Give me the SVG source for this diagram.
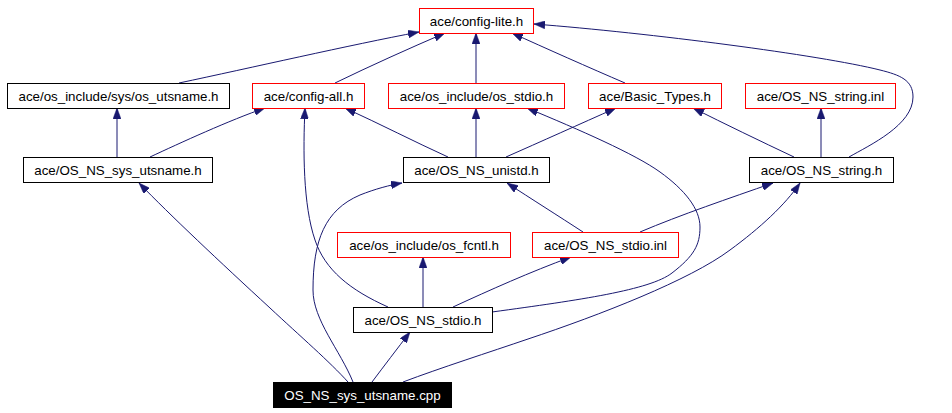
<svg xmlns="http://www.w3.org/2000/svg" width="952" height="413" viewBox="0 0 952 413">
<style>
  .box { fill: #ffffff; stroke: #000000; stroke-width: 1; }
  .red { stroke: #ff0000; }
  .cur { fill: #000000; stroke: #000000; }
  text { font-family: "Liberation Sans", Arial, sans-serif; font-size: 13.33px; text-anchor: middle; fill: #000000; }
  .wt { fill: #ffffff; }
  .edge { fill: none; stroke: #191970; stroke-width: 1; marker-end: url(#arr); }
</style>
<defs>
  <marker id="arr" viewBox="0 0 11 8" refX="11" refY="4" markerWidth="11" markerHeight="8" markerUnits="userSpaceOnUse" orient="auto">
    <path d="M0,0 L11,4 L0,8 z" fill="#191970" stroke="#191970" stroke-width="0.5"/>
  </marker>
</defs>
<rect width="952" height="413" fill="#ffffff"/>
<g id="connectors">
  <path class="edge" d="M179,83 C 250,68 350,45 419,32"/>
  <path class="edge" d="M335,83 C 370,66 410,48 445,33"/>
  <path class="edge" d="M476,83 L476,33"/>
  <path class="edge" d="M625,83 C 590,68 545,48 512,33"/>
  <path class="edge" d="M849,157 C 870,145 913,125 913,97 C 913,80 900,75 880,70 C 820,55 650,33 534,24"/>
  <path class="edge" d="M117,157 L117,108"/>
  <path class="edge" d="M150,157 C 180,143 230,120 265,108"/>
  <path class="edge" d="M448,157 C 415,142 380,124 345,108"/>
  <path class="edge" d="M388,307 C 350,290 325,270 315,240 C 303,205 303,150 305,108"/>
  <path class="edge" d="M476,157 L476,108"/>
  <path class="edge" d="M506,157 C 540,142 580,124 616,108"/>
  <path class="edge" d="M492,312 C 580,300 650,290 672,273 S 700,245 700,227 S 685,190 660,172 S 580,130 527,108"/>
  <path class="edge" d="M583,232 C 560,217 530,198 507,183"/>
  <path class="edge" d="M640,232 C 680,215 730,198 773,183"/>
  <path class="edge" d="M821,157 L821,108"/>
  <path class="edge" d="M794,157 C 760,141 725,124 693,108"/>
  <path class="edge" d="M348,382 C 330,362 300,336 270,308 C 220,262 170,215 139,183"/>
  <path class="edge" d="M353,382 C 340,350 313,320 313,290 C 313,240 325,210 360,195 C 375,189 390,185 402,183"/>
  <path class="edge" d="M372,382 C 384,366 397,349 410,332"/>
  <path class="edge" d="M403,382 C 440,368 490,352 528,339 C 600,315 690,280 730,250 C 760,228 785,205 800,183"/>
  <path class="edge" d="M423,307 L423,257"/>
  <path class="edge" d="M453,307 C 490,290 530,272 571,257"/>
</g>
<g id="n_config_lite"><rect class="box red" x="419.5" y="8.5" width="114" height="25"/><text x="476.5" y="25.5">ace/config-lite.h</text></g>
<g id="n_os_utsname"><rect class="box" x="7.5" y="83.5" width="222" height="25"/><text x="118.5" y="100.5">ace/os_include/sys/os_utsname.h</text></g>
<g id="n_config_all"><rect class="box red" x="252.5" y="83.5" width="112" height="25"/><text x="308.5" y="100.5">ace/config-all.h</text></g>
<g id="n_os_stdio"><rect class="box red" x="388.5" y="83.5" width="176" height="25"/><text x="476.5" y="100.5">ace/os_include/os_stdio.h</text></g>
<g id="n_basic_types"><rect class="box red" x="588.5" y="83.5" width="133" height="25"/><text x="655" y="100.5">ace/Basic_Types.h</text></g>
<g id="n_string_inl"><rect class="box red" x="745.5" y="83.5" width="150" height="25"/><text x="820.5" y="100.5">ace/OS_NS_string.inl</text></g>
<g id="n_sys_utsname_h"><rect class="box" x="23.5" y="157.5" width="189" height="25"/><text x="118" y="174.5">ace/OS_NS_sys_utsname.h</text></g>
<g id="n_unistd"><rect class="box" x="403.5" y="157.5" width="146" height="25"/><text x="476.5" y="174.5">ace/OS_NS_unistd.h</text></g>
<g id="n_string_h"><rect class="box" x="749.5" y="157.5" width="144" height="25"/><text x="821.5" y="174.5">ace/OS_NS_string.h</text></g>
<g id="n_os_fcntl"><rect class="box red" x="337.5" y="232.5" width="173" height="25"/><text x="424" y="249.5">ace/os_include/os_fcntl.h</text></g>
<g id="n_stdio_inl"><rect class="box red" x="532.5" y="232.5" width="146" height="25"/><text x="605.5" y="249.5">ace/OS_NS_stdio.inl</text></g>
<g id="n_stdio_h"><rect class="box" x="353.5" y="307.5" width="139" height="25"/><text x="423" y="324.5">ace/OS_NS_stdio.h</text></g>
<g id="n_cpp"><rect class="box cur" x="273.5" y="382.5" width="178" height="25"/><text class="wt" x="362.5" y="399.5">OS_NS_sys_utsname.cpp</text></g>
</svg>
